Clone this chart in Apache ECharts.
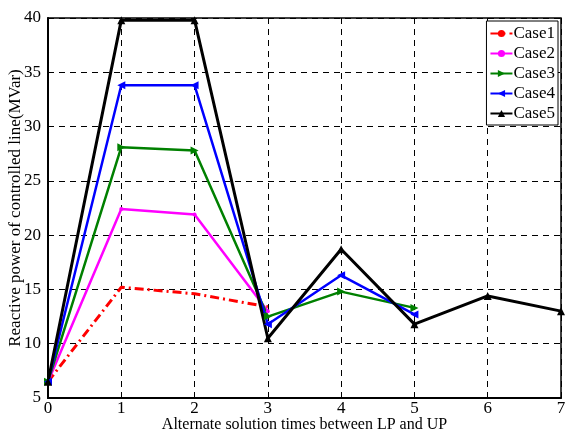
<!DOCTYPE html>
<html><head><meta charset="utf-8">
<script src="https://cdn.jsdelivr.net/npm/echarts@6/dist/echarts.min.js"></script>
<style>html,body{margin:0;padding:0;background:#fff}#c{width:565px;height:434px}</style>
</head><body><div id="c"></div>
<script>
var categories = [0, 1, 2, 3, 4, 5, 6, 7];
var case1 = [6.5, 15.2, 14.6, 13.4];
var case2 = [6.5, 22.4, 21.9, 13.0];
var case3 = [6.5, 28.1, 27.8, 12.5, 14.8, 13.3];
var case4 = [6.5, 33.8, 33.8, 11.8, 16.3, 12.7];
var case5 = [6.5, 39.8, 39.8, 10.5, 18.7, 11.8, 14.4, 13.0];
var seriesNames = ['Case1', 'Case2', 'Case3', 'Case4', 'Case5'];
var yTicks = [5, 10, 15, 20, 25, 30, 35, 40];

function pairs(arr){ return arr.map(function(v,i){ return [categories[i], v]; }); }

var font = 'Liberation Serif, Times New Roman, serif';
var chart = echarts.init(document.getElementById('c'), null, {renderer:'canvas'});
var gridLine = {show:true, lineStyle:{color:'#000', type:[6,5], width:1}};
chart.setOption({
  animation:false,
  backgroundColor:'#fff',
  grid:{left:48, right:4, top:18, bottom:36, show:true, borderColor:'#000', borderWidth:1.5,
    containLabel:false, outerBoundsMode:'none'},
  xAxis:{type:'value', min:0, max:7, interval:1,
    name:'Alternate solution times between LP and UP', nameLocation:'middle', nameGap:19,
    nameMoveOverlap:false,
    nameTextStyle:{fontFamily:font, fontSize:16, color:'#000'},
    axisLine:{show:true, lineStyle:{color:'#000', width:2}},
    axisTick:{show:false},
    axisLabel:{fontFamily:font, fontSize:17, color:'#000', margin:2},
    splitLine:gridLine},
  yAxis:{type:'value', min:5, max:40, interval:5,
    name:'Reactive power of controlled line(MVar)', nameLocation:'middle', nameGap:24,
    nameMoveOverlap:false,
    nameTextStyle:{fontFamily:font, fontSize:17, color:'#000'},
    axisLine:{show:true, lineStyle:{color:'#000', width:2}},
    axisTick:{show:false},
    axisLabel:{fontFamily:font, fontSize:17, color:'#000', margin:7,
      formatter:function(v){ return yTicks.indexOf(v)>=0 ? String(v) : ''; }},
    splitLine:gridLine},
  legend:{orient:'vertical', right:7, top:21, backgroundColor:'#fff', borderColor:'#000', borderWidth:1,
    padding:[4,3,3,3], itemGap:3, itemWidth:22, itemHeight:9,
    textStyle:{fontFamily:font, fontSize:17, color:'#000', padding:[0,0,0,-4], lineHeight:15},
    data:seriesNames},
  series:[
    {name:'Case1', type:'line', data:pairs(case1), symbol:'none', color:'#ff0000',
      legendIcon:'path://M0,0h7v3h-7z M9,0h6v3h-6z M17,0h2v3h-2z M20,0h2v3h-2z',
      lineStyle:{width:3, type:[9,4,2,4], color:'#ff0000'}},
    {name:'Case2', type:'line', data:pairs(case2), symbol:'circle', symbolSize:4, color:'#ff00ff',
      lineStyle:{width:2.5, color:'#ff00ff'}, itemStyle:{color:'#ff00ff'}},
    {name:'Case3', type:'line', data:pairs(case3), symbol:'triangle', symbolSize:8, symbolRotate:-90, color:'#008000',
      lineStyle:{width:2.5, color:'#008000'}, itemStyle:{color:'#008000'}},
    {name:'Case4', type:'line', data:pairs(case4), symbol:'triangle', symbolSize:8, symbolRotate:90, color:'#0000ff',
      lineStyle:{width:2.5, color:'#0000ff'}, itemStyle:{color:'#0000ff'}},
    {name:'Case5', type:'line', data:pairs(case5), symbol:'triangle', symbolSize:8, color:'#000000',
      lineStyle:{width:3, color:'#000000'}, itemStyle:{color:'#000000'}}
  ]
});
</script></body></html>
